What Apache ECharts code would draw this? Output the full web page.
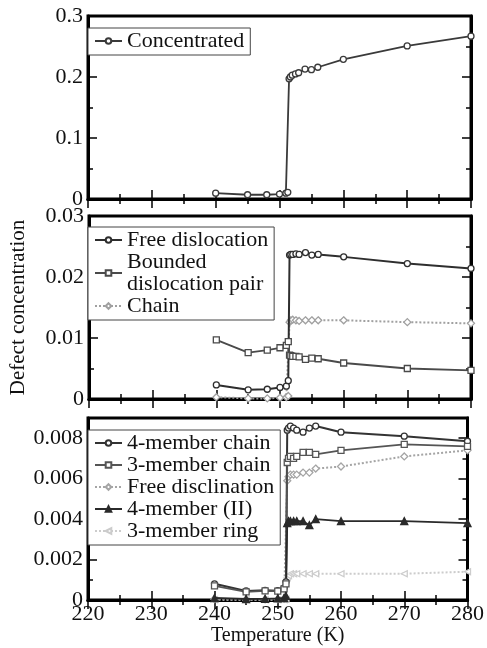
<!DOCTYPE html>
<html>
<head>
<meta charset="utf-8">
<script src="https://cdn.jsdelivr.net/npm/echarts@6/dist/echarts.min.js"></script>
<style>html,body{margin:0;padding:0;background:#fff}#c{width:487px;height:648px}</style>
</head>
<body>
<div id="c"></div>
<script>
// Temperature (K) sample points
const temps = [240,245,248,250,251,251.3,251.5,251.7,252,252.5,253,254,255,256,260,270,280];

// Panel 1
const concentrated = [0.0095,0.0070,0.0070,0.0080,0.0095,0.011,0.197,0.200,0.203,0.205,0.207,0.213,0.212,0.216,0.229,0.251,0.267];

// Panel 2
const freeDislocation = [0.0023,0.0015,0.0016,0.0019,0.0021,0.0030,0.0236,0.0237,0.0237,0.0238,0.0237,0.0240,0.0236,0.0237,0.0233,0.0222,0.0214];
const boundedPair = [0.0097,0.0076,0.0080,0.0084,0.0088,0.0094,0.0072,0.0071,0.0070,0.0070,0.0069,0.0065,0.0067,0.0066,0.0059,0.0050,0.0047];
const chain = [0.0003,0.0001,0.0001,0.0002,0.0003,0.0005,0.0126,0.0129,0.0130,0.0129,0.0128,0.0129,0.0129,0.0129,0.0129,0.0126,0.0124];

// Panel 3
const fourMemberChain = [0.0008,0.00045,0.00048,0.00046,0.0006,0.0009,0.0084,0.0085,0.0086,0.0085,0.0084,0.0083,0.0085,0.0086,0.0083,0.0081,0.00785];
const threeMemberChain = [0.0007,0.0004,0.00045,0.00044,0.00055,0.0008,0.0068,0.0070,0.0071,0.0070,0.0071,0.0073,0.0073,0.0072,0.0074,0.0077,0.0076];
const freeDisclination = [0.00005,0.00003,0.00003,0.00004,0.00006,0.0001,0.0059,0.0061,0.0062,0.0062,0.0062,0.0063,0.0063,0.0065,0.0066,0.0071,0.0074];
const fourMemberII = [0.0001,0.00005,0.00006,0.00008,0.0001,0.0002,0.0038,0.0039,0.0039,0.0039,0.0039,0.0039,0.0037,0.0040,0.0039,0.0039,0.0038];
const threeMemberRing = [0.00002,0.00001,0.00001,0.00001,0.00002,0.00004,0.0011,0.0012,0.0013,0.0013,0.0013,0.0013,0.0013,0.0013,0.0013,0.0013,0.0014];

// Axis ticks
const xTicks = {min: 220, max: 280, interval: 10};
const yTicks = [
  {min: 0, max: 0.3, interval: 0.1},
  {min: 0, max: 0.03, interval: 0.01},
  {min: 0, max: 0.009, interval: 0.002}
];

const FONT = 'Liberation Serif';
const pairs = vals => temps.map((t, i) => [t, vals[i]]);

const grids = [
  {left: 88, right: 16, top: 16, height: 183},
  {left: 88, right: 16, top: 216, height: 183},
  {left: 88, right: 16, top: 418, height: 182}
].map(g => Object.assign(g, {show: true, borderColor: '#000', borderWidth: 3, backgroundColor: 'transparent'}));

const xAxis = [];
const yAxis = [];
for (let i = 0; i < 3; i++) {
  const common = {
    type: 'value', gridIndex: i, min: xTicks.min, max: xTicks.max, interval: xTicks.interval,
    axisLine: {show: true, lineStyle: {color: '#000', width: 3}},
    axisTick: {show: true, inside: true, length: 9, lineStyle: {color: '#000', width: 1.5}},
    minorTick: {show: true, splitNumber: 2, length: 5, lineStyle: {color: '#000', width: 1.5}},
    splitLine: {show: false}
  };
  xAxis.push(Object.assign({}, common, {
    position: 'bottom',
    axisLabel: {show: i === 2, fontFamily: FONT, fontSize: 22, color: '#111', margin: 3},
    name: i === 2 ? 'Temperature (K)' : '',
    nameLocation: 'middle', nameGap: 25,
    nameTextStyle: {fontFamily: FONT, fontSize: 20, color: '#111'}
  }));
  xAxis.push(Object.assign({}, common, {position: 'top', axisLabel: {show: false}}));
  const ycommon = {
    type: 'value', gridIndex: i, min: yTicks[i].min, max: yTicks[i].max, interval: yTicks[i].interval,
    axisLine: {show: true, lineStyle: {color: '#000', width: 3}},
    axisTick: {show: true, inside: true, length: 9, lineStyle: {color: '#000', width: 1.5}},
    minorTick: {show: true, splitNumber: 2, length: 5, lineStyle: {color: '#000', width: 1.5}},
    splitLine: {show: false}
  };
  yAxis.push(Object.assign({}, ycommon, {
    position: 'left',
    axisLabel: {show: true, fontFamily: FONT, fontSize: 22, color: '#111', margin: 5, showMaxLabel: i !== 2},
    name: i === 1 ? 'Defect concentration' : '',
    nameLocation: 'middle', nameGap: 60,
    nameTextStyle: {fontFamily: FONT, fontSize: 21, color: '#111'}
  }));
  yAxis.push(Object.assign({}, ycommon, {position: 'right', axisLabel: {show: false}}));
}

function mk(name, vals, gi, color, symbol, opts) {
  opts = opts || {};
  return {
    name, type: 'line', xAxisIndex: gi * 2, yAxisIndex: gi * 2,
    data: pairs(vals),
    symbol, symbolSize: opts.size || 6, symbolRotate: opts.rotate || 0,
    showAllSymbol: true,
    lineStyle: {color, width: opts.width || 1.8, type: opts.type || 'solid'},
    itemStyle: {color: opts.fill || '#fff', borderColor: color, borderWidth: 1.3},
    emphasis: {disabled: true},
    animation: false,
    z: opts.z || 3
  };
}

const series = [
  mk('Concentrated', concentrated, 0, '#3a3a3a', 'circle'),
  mk('Free dislocation', freeDislocation, 1, '#2e2e2e', 'circle', {width: 2}),
  mk('Bounded\ndislocation pair', boundedPair, 1, '#4a4a4a', 'rect', {size: 6}),
  mk('Chain', chain, 1, '#a0a0a0', 'diamond', {type: 'dotted', width: 2, size: 7, z: 2}),
  mk('4-member chain', fourMemberChain, 2, '#333', 'circle', {width: 2}),
  mk('3-member chain', threeMemberChain, 2, '#555', 'rect'),
  mk('Free disclination', freeDisclination, 2, '#a5a5a5', 'diamond', {type: 'dotted', width: 2, size: 7, z: 2}),
  mk('4-member (II)', fourMemberII, 2, '#2a2a2a', 'triangle', {fill: '#2a2a2a', size: 7}),
  mk('3-member ring', threeMemberRing, 2, '#cccccc', 'triangle', {type: 'dotted', width: 2, rotate: 90, size: 6, z: 1})
];

function legend(names, top, lh) {
  return {
    data: names, orient: 'vertical', left: 88, top,
    padding: [2, 6, 3, 6], itemGap: 0, itemWidth: 27, itemHeight: 7,
    borderColor: '#444', borderWidth: 1, backgroundColor: '#fff',
    selectedMode: false,
    textStyle: {fontFamily: FONT, fontSize: 22, color: '#111', lineHeight: lh, padding: [0, 0, 0, 0]}
  };
}

const chart = echarts.init(document.getElementById('c'), null, {renderer: 'canvas'});
chart.setOption({
  animation: false,
  backgroundColor: '#fff',
  grid: grids,
  xAxis, yAxis, series,
  legend: [
    legend(['Concentrated'], 28, 22),
    legend(['Free dislocation', 'Bounded\ndislocation pair', 'Chain'], 227, 22),
    legend(['4-member chain', '3-member chain', 'Free disclination', '4-member (II)', '3-member ring'], 430, 21.5)
  ]
});
</script>
</body>
</html>
